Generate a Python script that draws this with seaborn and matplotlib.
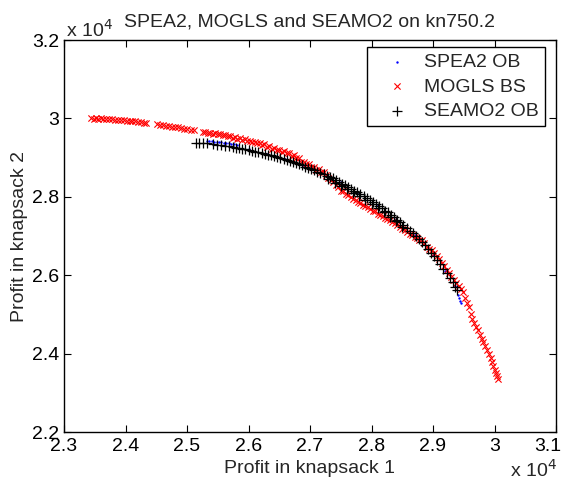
import pandas as pd
import matplotlib
matplotlib.use("Agg")
import matplotlib.pyplot as plt
import matplotlib.transforms as mtrans
import seaborn as sns
from matplotlib.ticker import FuncFormatter

spea2_x = [25320, 25360, 25400, 25440, 25480, 25520, 25560, 25600, 25640, 25680,
           25720, 25760, 25820, 26000, 26300, 26600, 26900, 27200, 27500, 27800,
           28100, 28400, 28700, 29000, 29200, 29350, 29400, 29420, 29440, 29460]
spea2_y = [29420, 29420, 29415, 29410, 29405, 29400, 29390, 29380, 29375, 29360,
           29350, 29335, 29320, 29230, 29100, 28960, 28790, 28600, 28370, 28090,
           27780, 27440, 27030, 26520, 26110, 25720, 25500, 25420, 25350, 25300]

mogls_x = [23440, 23480, 23520, 23560, 23600, 23640, 23690, 23730, 23780, 23830,
           23880, 23920, 23970, 24020, 24070, 24110, 24160, 24210, 24250, 24300,
           24340,
           24520, 24560, 24610, 24660, 24710, 24750, 24800, 24850, 24900, 24950,
           25000, 25060, 25110,
           25260, 25300, 25340, 25380, 25420, 25460, 25500, 25540, 25580, 25620,
           25660, 25700, 25740, 25780, 25820, 25860, 25900, 25940, 25980, 26020,
           26060, 26100, 26140, 26180, 26220, 26260, 26300, 26340, 26380, 26420,
           26460, 26500, 26540, 26580, 26620, 26660, 26700, 26740, 26780, 26820,
           26860, 26900, 26940, 26980, 27020, 27060, 27100, 27140, 27180, 27220,
           27260,
           27300, 27340, 27380, 27420, 27460, 27500, 27540, 27580, 27620, 27660,
           27700, 27740, 27780, 27820, 27860, 27900, 27940, 27980, 28020, 28060,
           28100, 28140, 28180, 28220, 28260, 28300, 28340, 28380, 28420, 28460,
           28500, 28540, 28580, 28620, 28660, 28700, 28740, 28780, 28820, 28860,
           28900, 28940, 28980, 29020, 29060, 29100, 29140, 29180, 29220, 29260,
           29300, 29340, 29380, 29420, 29460, 29490, 29520, 29550, 29580, 29610,
           29640, 29670, 29700, 29730, 29760, 29790, 29820, 29850, 29880, 29910,
           29940, 29960, 29980, 30000, 30020, 30040, 30050]
mogls_y = [30010, 29990, 30005, 29995, 30010, 29985, 29995, 29975, 29985, 29965,
           29970, 29950, 29958, 29940, 29945, 29925, 29930, 29910, 29915, 29895,
           29885,
           29845, 29830, 29835, 29810, 29800, 29790, 29770, 29775, 29750, 29740,
           29725, 29715, 29695,
           29655, 29660, 29630, 29640, 29610, 29620, 29590, 29600, 29565, 29575,
           29540, 29550, 29505, 29520, 29485, 29495, 29455, 29465, 29425, 29435,
           29395, 29405, 29365, 29375, 29320, 29335, 29270, 29290, 29230, 29250,
           29190, 29205, 29150, 29160, 29105, 29115, 29045, 29065, 28990, 28985,
           28890, 28880, 28830, 28825, 28760, 28770, 28690, 28700, 28620, 28625,
           28550,
           28480, 28420, 28380, 28300, 28250, 28160, 28140, 28060, 28040, 27990,
           27950, 27930, 27860, 27840, 27800, 27760, 27730, 27690, 27650, 27630,
           27570, 27540, 27520, 27470, 27440, 27410, 27360, 27330, 27280, 27240,
           27190, 27160, 27110, 27060, 27020, 26980, 26960, 26910, 26890, 26820,
           26730, 26680, 26640, 26560, 26480, 26420, 26320, 26230, 26140, 26060,
           25960, 25880, 25800, 25720, 25650, 25560, 25420, 25300, 25180, 25010,
           24880, 24790, 24680, 24590, 24480, 24380, 24290, 24200, 24100, 23990,
           23880, 23780, 23680, 23590, 23510, 23420, 23360]

seamo2_x = [25150, 25200, 25260, 25330, 25420, 25480, 25560, 25620, 25690, 25750,
            25800, 25850, 25900, 25950, 26000, 26060, 26110, 26160, 26220, 26270,
            26320, 26370, 26420, 26470, 26520, 26570, 26620, 26670, 26720, 26770,
            26820, 26870, 26920, 26970, 27020, 27070, 27120, 27170, 27220, 27270,
            27320, 27370, 27420, 27470, 27520, 27570, 27620, 27670, 27720, 27770,
            27820, 27870, 27920, 27970, 28020, 28070, 28120, 28170, 28220, 28270,
            28320, 28370, 28420, 28470, 28520, 28570, 28620, 28670, 28720, 28770,
            28820, 28870, 28920, 28970, 29020, 29070, 29120, 29170, 29220, 29270,
            29320, 29360, 29390,
            27300, 27400, 27500, 27600, 27700, 27800, 27900, 28000, 28100, 28200,
            28300, 28400, 28500]
seamo2_y = [29380, 29370, 29385, 29360, 29345, 29330, 29320, 29300, 29290, 29270,
            29255, 29245, 29225, 29215, 29190, 29175, 29150, 29140, 29115, 29100,
            29075, 29060, 29030, 29010, 28985, 28960, 28935, 28910, 28880, 28855,
            28825, 28800, 28765, 28740, 28705, 28680, 28640, 28610, 28570, 28540,
            28500, 28470, 28420, 28380, 28330, 28290, 28240, 28200, 28150, 28110,
            28060, 28020, 27960, 27920, 27860, 27820, 27760, 27710, 27650, 27600,
            27540, 27480, 27420, 27350, 27280, 27210, 27140, 27070, 26990, 26920,
            26840, 26760, 26660, 26570, 26480, 26380, 26280, 26170, 26060, 25940,
            25820, 25700, 25620,
            28450, 28360, 28270, 28190, 28100, 28010, 27920, 27820, 27710, 27600,
            27490, 27370, 27240]

x_ticks = [23000, 24000, 25000, 26000, 27000, 28000, 29000, 30000, 31000]
y_ticks = [22000, 24000, 26000, 28000, 30000, 32000]

sns.set_theme(style="ticks", rc={
    "xtick.direction": "in", "ytick.direction": "in",
    "xtick.top": True, "ytick.right": True,
    "axes.edgecolor": "black", "axes.linewidth": 1.0,
    "xtick.color": "black", "ytick.color": "black",
})
plt.rcParams['font.family'] = ['Liberation Sans', 'DejaVu Sans']

fig = plt.figure(figsize=(5.68, 4.83), dpi=100)
ax = fig.add_axes([64 / 568, 1 - 432 / 483, 492 / 568, 392 / 483])

sns.scatterplot(x=spea2_x, y=spea2_y, ax=ax, color="blue", marker=".", s=12,
                linewidth=0, label="SPEA2 OB")
sns.scatterplot(x=mogls_x, y=mogls_y, ax=ax, color="red", marker="x", s=20,
                linewidth=0.8, label="MOGLS BS")
sns.scatterplot(x=seamo2_x, y=seamo2_y, ax=ax, color="black", marker="+", s=45,
                linewidth=0.9, label="SEAMO2 OB")

ax.set_xlim(23000, 31000)
ax.set_ylim(22000, 32000)
ax.set_xticks(x_ticks)
ax.set_yticks(y_ticks)
fmt = FuncFormatter(lambda v, p: "%g" % round(v / 1e4, 2))
ax.xaxis.set_major_formatter(fmt)
ax.yaxis.set_major_formatter(fmt)
ax.tick_params(labelsize=14, length=5, width=0.8, colors="black")
ax.tick_params(axis="x", pad=4)
for s in ax.spines.values():
    s.set_visible(True)
    s.set_color("black")

# keep the last x label inside the picture, as in the original
last = ax.xaxis.get_major_ticks()[-1].label1
last.set_transform(last.get_transform() +
                   mtrans.ScaledTranslation(-8 / 100, 0, fig.dpi_scale_trans))

ax.set_xlabel("Profit in knapsack 1", fontsize=14, labelpad=4)
ax.set_ylabel("Profit in knapsack 2", fontsize=14, labelpad=3)
ax.set_title("SPEA2, MOGLS and SEAMO2 on kn750.2", fontsize=14, pad=10)

# exponent labels like the original
fig.text(66 / 568, 1 - 30 / 483, "x 10$^{4}$", fontsize=14, ha="left", va="center")
fig.text(510 / 568, 1 - 470 / 483, "x 10$^{4}$", fontsize=14, ha="left", va="center")

leg = ax.legend(loc="upper right", bbox_to_anchor=(0.978, 0.982), borderaxespad=0,
                fontsize=14, frameon=True, fancybox=False, edgecolor="black",
                framealpha=1, handlelength=2.4, handletextpad=0.2,
                borderpad=0.33, labelspacing=0.35)
leg.get_frame().set_linewidth(1.0)

plt.savefig("out.png", dpi=100)
plt.close()
